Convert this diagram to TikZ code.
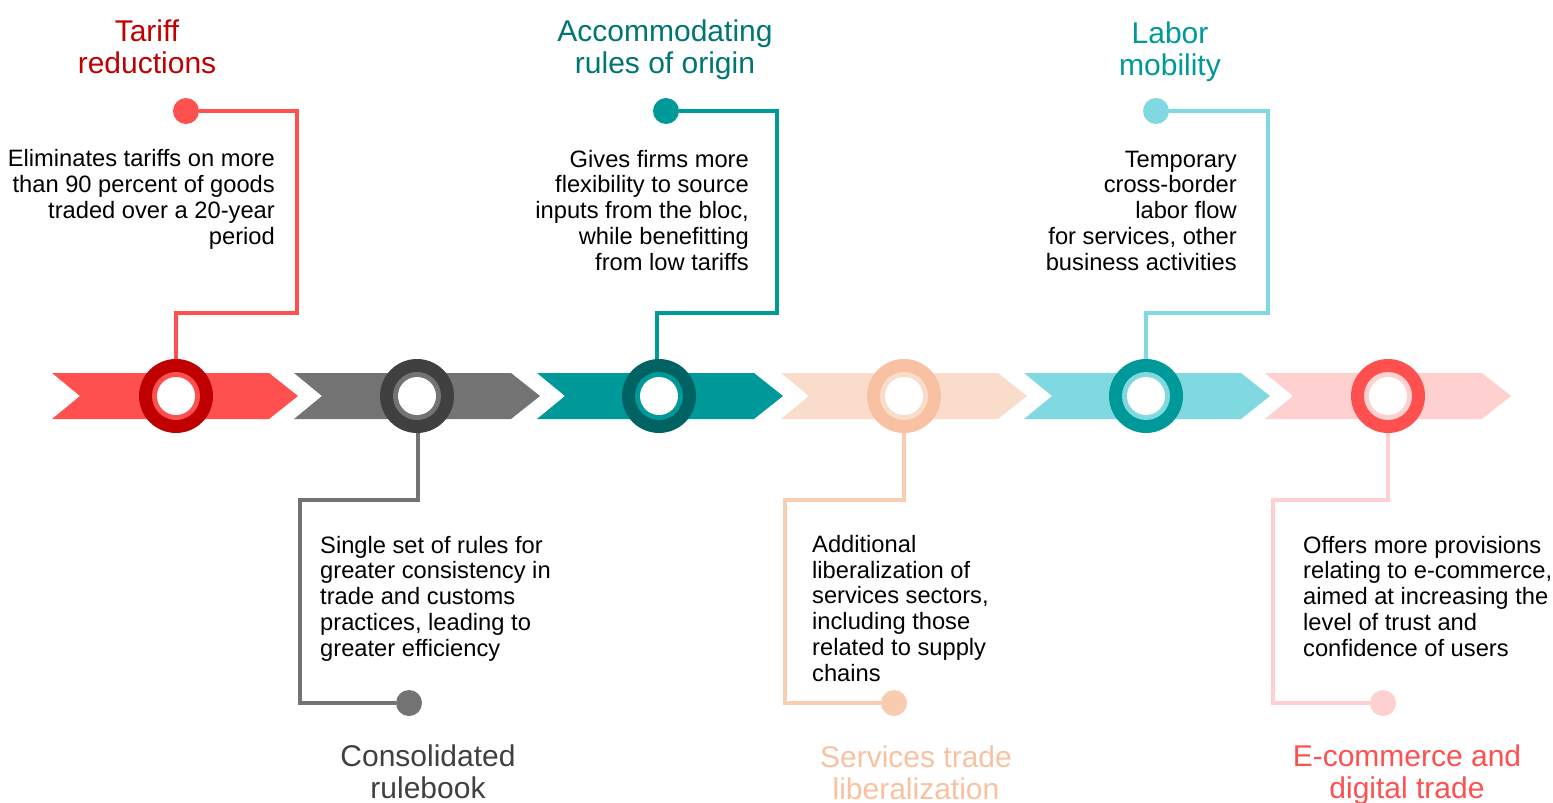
\documentclass[tikz,border=0pt]{standalone}
\usepackage{fontspec}
\setmainfont{Liberation Sans}
\usetikzlibrary{backgrounds}
\definecolor{cA}{HTML}{FF5050}\definecolor{rA}{HTML}{C00000}
\definecolor{cB}{HTML}{737373}\definecolor{rB}{HTML}{404040}
\definecolor{cC}{HTML}{009999}\definecolor{rC}{HTML}{006262}\definecolor{tC}{HTML}{007575}
\definecolor{cD}{HTML}{FADCCB}\definecolor{rD}{HTML}{F8C2A2}
\definecolor{cE}{HTML}{80D8E0}\definecolor{rE}{HTML}{009999}
\definecolor{cF}{HTML}{FFD0D0}\definecolor{rF}{HTML}{FF5050}
\definecolor{txt}{HTML}{000000}
\tikzset{
  body/.style={font=\fontsize{23.7}{25.7}\selectfont, inner sep=0pt, text=txt},
  bodyR/.style={body, align=right, anchor=base east},
  bodyL/.style={body, align=left, anchor=base west},
  ttl/.style={font=\fontsize{30}{31.5}\selectfont, inner sep=0pt, align=center, anchor=base},
  conn/.style={line width=4pt},
  dotnode/.style={circle, inner sep=0pt, minimum size=26pt},
  ring/.style={circle, inner sep=0pt, minimum size=74pt},
}
\newcommand{\chev}[2]{\fill[#2] (#1,373) -- ++(217,0) -- ++(29,23) -- ++(-29,23) -- ++(-217,0) -- ++(28,-23) -- cycle;}
\newcommand{\ringin}[3]{\fill[#2] (#1) circle (24pt); \fill[white] (#1) circle (19pt);}
\begin{document}
\begin{tikzpicture}[x=1pt,y=-1pt]
\useasboundingbox (0,0) rectangle (1553,803);
% rings (nodes)
\node[ring, fill=rA] (c1) at (176,396) {};
\node[ring, fill=rB] (c2) at (417,396) {};
\node[ring, fill=rC] (c3) at (659,396) {};
\node[ring, fill=rD] (c4) at (904,396) {};
\node[ring, fill=rE] (c5) at (1146,396) {};
\node[ring, fill=rF] (c6) at (1388,396) {};
\ringin{c1}{cA}{}\ringin{c2}{cB}{}\ringin{c3}{cC}{}
\ringin{c4}{cD}{}\ringin{c5}{cE}{}\ringin{c6}{cF}{}
% dots
\node[dotnode, fill=cA] (d1) at (186,111) {};
\node[dotnode, fill=cB] (d2) at (409,703) {};
\node[dotnode, fill=cC] (d3) at (666,111) {};
\node[dotnode, fill=rD!60!cD] (d4) at (894,703) {};
\node[dotnode, fill=cE] (d5) at (1156,111) {};
\node[dotnode, fill=cF] (d6) at (1383,703) {};
% bend points
\coordinate (k1) at (297,313);
\coordinate (k2) at (300,500);
\coordinate (k3) at (777,313);
\coordinate (k4) at (785,500);
\coordinate (k5) at (1268,313);
\coordinate (k6) at (1273,500);
\begin{scope}[on background layer]
\chev{52}{cA}\chev{294}{cB}\chev{537}{cC}\chev{781}{cD}\chev{1024}{cE}\chev{1265}{cF}
\draw[conn, cA] (c1.north) |- (k1) |- (d1);
\draw[conn, cB] ([xshift=1pt]c2.south) |- (k2) |- (d2);
\draw[conn, cC] ([xshift=-2pt]c3.north) |- (k3) |- (d3);
\draw[conn, rD!60!cD] (c4.south) |- (k4) |- (d4);
\draw[conn, cE] (c5.north) |- (k5) |- (d5);
\draw[conn, cF] (c6.south) |- (k6) |- (d6);
\end{scope}
% titles (anchor = baseline of last line)
\node[ttl, text=rA] (t1) at (147,73) {Tariff\\reductions};
\node[ttl, text=rB] (t2) at (428,798) {Consolidated\\rulebook};
\node[ttl, text=tC] (t3) at (665,73) {Accommodating\\rules of origin};
\node[ttl, text=rD] (t4) at (916,799) {Services trade\\liberalization};
\node[ttl, text=cC] (t5) at (1170,75) {Labor\\mobility};
\node[ttl, text=rF] (t6) at (1407,798) {E-commerce and\\digital trade};
% descriptions (anchor = baseline of last line)
\node[bodyR] (x1) at (275,244) {Eliminates tariffs on more\\than 90 percent of goods\\traded over a 20-year\\period};
\node[bodyL] (x2) at (320,656) {Single set of rules for\\greater consistency in\\trade and customs\\practices, leading to\\greater efficiency};
\node[bodyR] (x3) at (749,270) {Gives firms more\\flexibility to source\\inputs from the bloc,\\while benefitting\\from low tariffs};
\node[bodyL] (x4) at (812,681) {Additional\\liberalization of\\services sectors,\\including those\\related to supply\\chains};
\node[bodyR] (x5) at (1237,270) {Temporary\\cross-border\\labor flow\\for services, other\\business activities};
\node[bodyL] (x6) at (1303,656) {Offers more provisions\\relating to e-commerce,\\aimed at increasing the\\level of trust and\\confidence of users};
\end{tikzpicture}
\end{document}
